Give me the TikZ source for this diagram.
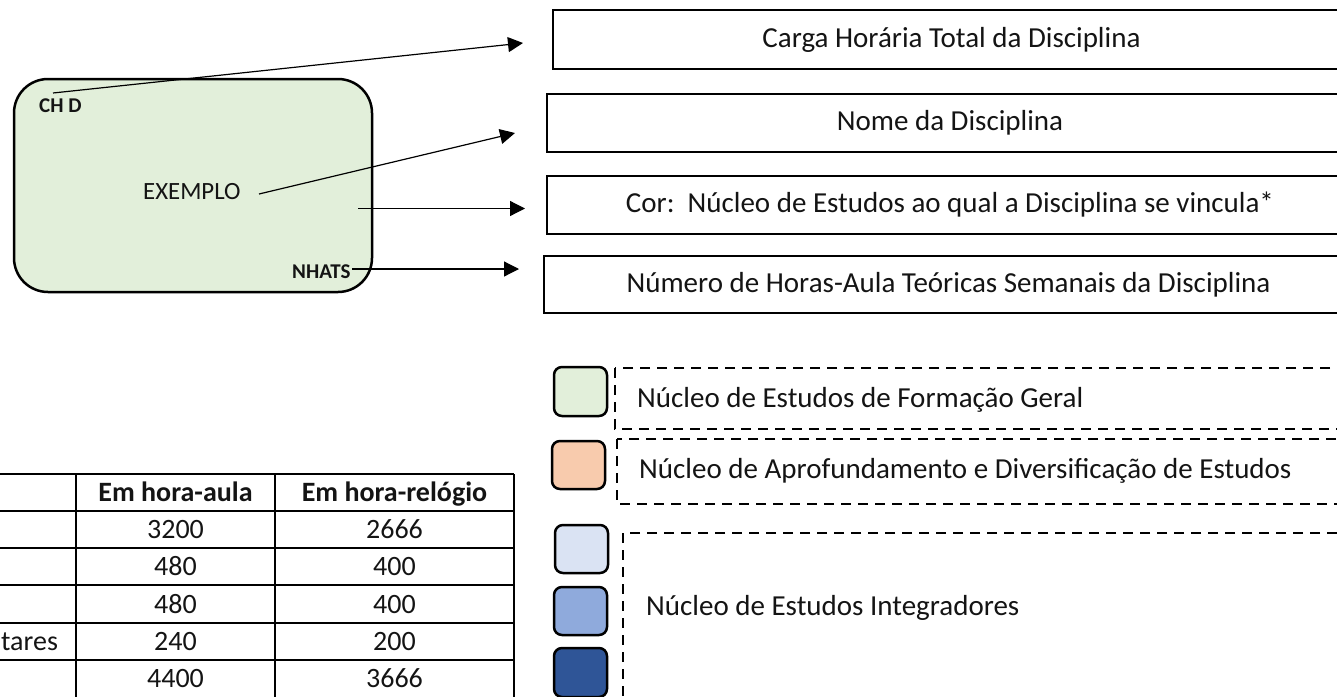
\documentclass[tikz,border=0pt]{standalone}
\usepackage{fontspec}
\setmainfont{Carlito}
\usetikzlibrary{arrows.meta}
\definecolor{nucgreen}{HTML}{E2EFDA}
\definecolor{nucorange}{HTML}{F8CBAD}
\definecolor{nuclblue}{HTML}{DAE3F3}
\definecolor{nucmblue}{HTML}{8FAADC}
\definecolor{nucdblue}{HTML}{2F5597}
\definecolor{ink}{HTML}{141414}
\begin{document}
\begin{tikzpicture}[x=1pt,y=-1pt,
  txt/.style={font=\fontsize{29}{34}\selectfont,text=ink},
  descbox/.style={txt,draw=black,line width=2.5pt,inner sep=0pt},
  swatch/.style={draw=black,line width=2.5pt,rounded corners=8pt,inner sep=0pt,minimum width=53pt},
  dashbox/.style={draw=black,line width=2.2pt,dash pattern=on 10pt off 7pt},
  arr/.style={line width=1.2pt,draw=black,-{Triangle[length=15pt,width=15pt]}},
  tbl/.style={line width=1.6pt,draw=black},
  cell/.style={anchor=base,font=\fontsize{28}{33}\selectfont,text=ink,inner sep=0pt},
  hcell/.style={cell,font=\bfseries\fontsize{28}{33}\selectfont},
  lbl/.style={anchor=base west,inner sep=0pt,text=ink},
]
\useasboundingbox (0,0) rectangle (1337,696);
\clip (0,0) rectangle (1337,696);

% example box
\node[draw=black,line width=2.5pt,fill=nucgreen,rounded corners=34pt,
      minimum width=358pt,minimum height=213pt,inner sep=0pt] (ex) at (193,185.5) {};
\node[lbl,font=\bfseries\fontsize{21}{25}\selectfont] (chd) at (39,112) {CH D};
\node[lbl,font=\fontsize{24.8}{29}\selectfont] (exm) at (143,199) {EXEMPLO};
\node[lbl,font=\bfseries\fontsize{21}{25}\selectfont] (nhats) at (292,278) {NHATS};

% description boxes
\node[descbox,minimum width=797pt,minimum height=59pt] (carga) at (951.5,39.5) {Carga Horária Total da Disciplina};
\node[descbox,minimum width=806pt,minimum height=58pt] (nome) at (950,123) {Nome da Disciplina};
\node[descbox,minimum width=806pt,minimum height=58pt] (cor) at (950,205) {Cor:\ \ Núcleo de Estudos ao qual a Disciplina se vincula*};
\node[descbox,minimum width=809pt,minimum height=57pt] (num) at (948.5,284.5) {Número de Horas-Aula Teóricas Semanais da Disciplina};

% connectors
\coordinate (chdS) at (53,93);
\coordinate (exS) at (259,194);
\coordinate (corS) at (358,208.5);
\coordinate (nhS) at (352,269);
\coordinate (t1) at (523,43);
\coordinate (t2) at (515,133);
\coordinate (t3) at (525,208.5);
\coordinate (t4) at (519,269);
\draw[arr] (chdS) -- (t1);
\draw[arr] (exS) -- (t2);
\draw[arr] (corS) -- (t3);
\draw[arr] (nhS) -- (t4);

% legend
\node[swatch,fill=nucgreen,minimum height=49pt] (sw1) at (580.5,391.5) {};
\node[swatch,fill=nucorange,minimum height=48pt] (sw2) at (578.5,465) {};
\node[swatch,fill=nuclblue,minimum height=48pt] (sw3) at (581.5,549) {};
\node[swatch,fill=nucmblue,minimum height=48pt] (sw4) at (580.5,611) {};
\node[swatch,fill=nucdblue,minimum height=49pt] (sw5) at (580.5,672.5) {};
\draw[dashbox] (615,368) rectangle (1345,429);
\draw[dashbox] (617,439) rectangle (1345,504);
\draw[dashbox] (623,533) rectangle (1345,712);
\node[lbl,txt] (lg1) at (637,407) {Núcleo de Estudos de Formação Geral};
\node[lbl,txt] (lg2) at (639,478) {Núcleo de Aprofundamento e Diversificação de Estudos};
\node[lbl,txt] (lg3) at (646,615) {Núcleo de Estudos Integradores};

% table
\foreach \yy in {474,511,548,585,623,660} {\draw[tbl] (-5,\yy) -- (514,\yy);}
\foreach \xx in {76,275,514} {\draw[tbl] (\xx,474) -- (\xx,700);}
\node[hcell] (h1) at (175.5,501) {Em hora-aula};
\node[hcell] (h2) at (394.5,501) {Em hora-relógio};
\node[cell] (a1) at (175.5,538) {3200};
\node[cell] (b1) at (394.5,538) {2666};
\node[cell] (a2) at (175.5,575) {480};
\node[cell] (b2) at (394.5,575) {400};
\node[cell] (a3) at (175.5,613) {480};
\node[cell] (b3) at (394.5,613) {400};
\node[cell,anchor=base west] (c4) at (1,650) {tares};
\node[cell] (a4) at (175.5,650) {240};
\node[cell] (b4) at (394.5,650) {200};
\node[cell] (a5) at (175.5,687) {4400};
\node[cell] (b5) at (394.5,687) {3666};
\end{tikzpicture}
\end{document}
